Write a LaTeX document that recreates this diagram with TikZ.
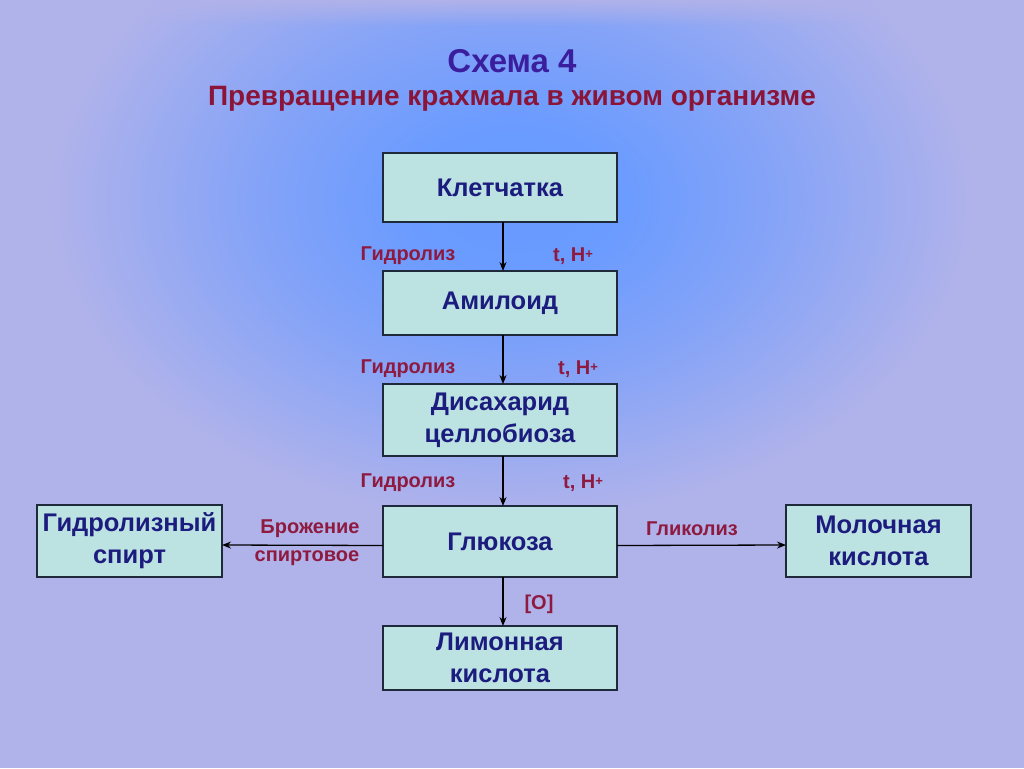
\documentclass[tikz,border=0pt]{standalone}
\usepackage{fontspec}
\setmainfont{Liberation Sans}
\usetikzlibrary{arrows.meta,fadings}
\definecolor{bglav}{HTML}{B0B2EA}
\definecolor{boxfill}{HTML}{BCE2E2}
\definecolor{boxline}{HTML}{1E2A3A}
\definecolor{boxtext}{HTML}{1C1C7E}
\definecolor{titleblue}{HTML}{3A1E9E}
\definecolor{titlered}{HTML}{8A1538}
\definecolor{labred}{HTML}{8E1A40}
\pgfdeclareradialshading{glow}{\pgfpoint{0bp}{0bp}}{rgb(0bp)=(0.40,0.60,1.0); rgb(6bp)=(0.42,0.61,1.0); rgb(14bp)=(0.52,0.64,0.97); rgb(25bp)=(0.69,0.70,0.92); rgb(50bp)=(0.69,0.70,0.92)}
\tikzfading[name=topfade, top color=transparent!0, bottom color=transparent!100]
\newcommand{\hplus}{{\fontsize{13}{13}\selectfont\raisebox{3pt}{+}}}
\tikzset{
  box/.style={draw=boxline, line width=1.4pt, fill=boxfill, minimum width=234pt,
    inner sep=0pt, outer sep=0pt, align=center, text=boxtext,
    font=\fontsize{25.5}{32}\selectfont\bfseries},
  sidebox/.style={box, minimum width=185pt, minimum height=72pt},
  lab/.style={text=labred, font=\fontsize{20}{24}\selectfont\bfseries, inner sep=0pt},
  arr/.style={draw=black, line width=1.3pt, -{Stealth[length=9pt,width=7pt]}}
}
\begin{document}
\begin{tikzpicture}[x=1pt,y=-1pt]
\useasboundingbox (0,0) rectangle (1024,768);
\fill[bglav] (0,0) rectangle (1024,768);
\begin{scope}
\clip (0,0) rectangle (1024,768);
\shade[shading=glow] (512,200) ellipse [x radius=460, y radius=320];
\fill[bglav, path fading=topfade] (0,0) rectangle (1024,26);
\end{scope}

\node[text=titleblue, font=\fontsize{33}{36}\selectfont\bfseries] (t1) at (512,61) {Схема 4};
\node[text=titlered, font=\fontsize{28}{30}\selectfont\bfseries] (t2) at (512,99) {Превращение крахмала в живом организме};

\node[box, minimum height=69pt] (kl) at (500,187.5) {Клетчатка};
\node[box, minimum height=64pt] (am) at (500,303) {Амилоид};
\node[box, minimum height=72pt] (di) at (500,420) {Дисахарид\\целлобиоза};
\node[box, minimum height=71pt] (gl) at (500,541.5) {Глюкоза};
\node[box, minimum height=64pt] (li) at (500,658) {Лимонная\\кислота};
\node[sidebox] (sp) at (129.5,541) {Гидролизный\\спирт};
\node[sidebox] (mo) at (878.5,541) {Молочная\\кислота};

\draw[arr] ([xshift=3pt]kl.south) -- ([xshift=3pt]am.north);
\draw[arr] ([xshift=3pt]am.south) -- ([xshift=3pt]di.north);
\draw[arr] ([xshift=3pt]di.south) -- ([xshift=3pt]gl.north);
\draw[arr] ([xshift=3pt]gl.south) -- ([xshift=3pt]li.north);
\draw[arr] ([yshift=-4pt]gl.west) -- ([yshift=-4pt]sp.east);
\draw[arr] ([yshift=-4pt]gl.east) -- ([yshift=-4pt]mo.west);

\node[lab] (g1) at (408,256) {Гидролиз};
\node[lab] (h1) at (573,256) {t, H\hplus};
\node[lab] (g2) at (408,369) {Гидролиз};
\node[lab] (h2) at (578,369) {t, H\hplus};
\node[lab] (g3) at (408,483) {Гидролиз};
\node[lab] (h3) at (583,483) {t, H\hplus};
\node[lab] (br) at (310,529) {Брожение};
\node[lab] (sv) at (307,558) {спиртовое};
\node[lab] (gk) at (692,529) {Гликолиз};
\node[lab] (ox) at (539,604) {[O]};
\end{tikzpicture}
\end{document}
